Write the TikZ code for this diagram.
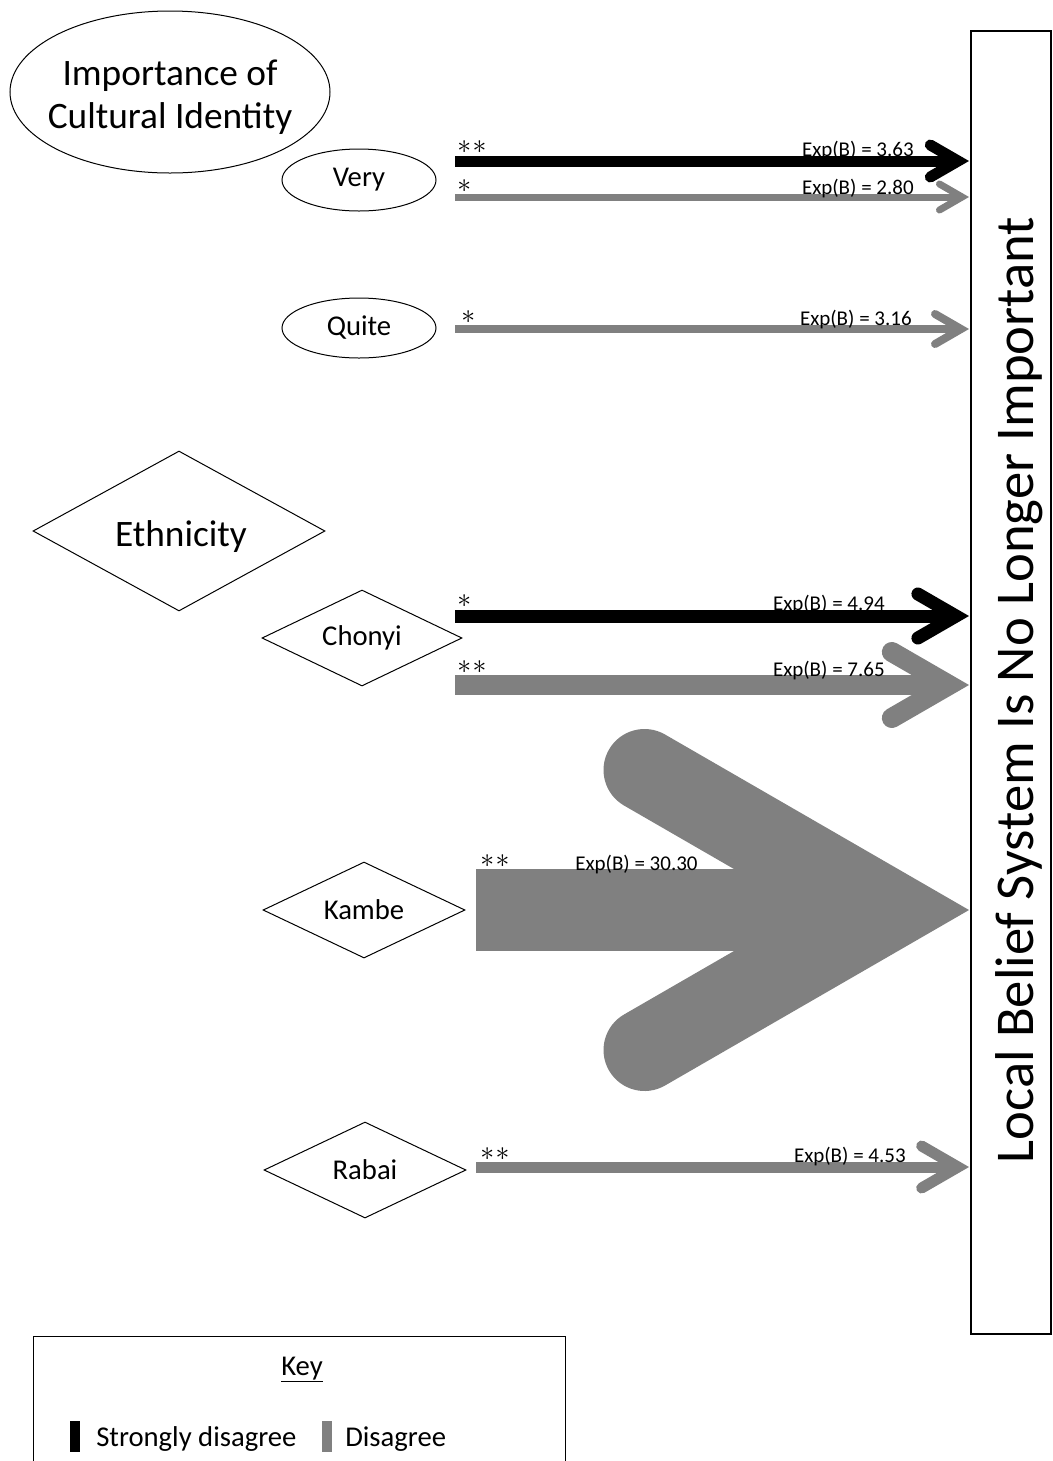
\documentclass[tikz,border=0pt]{standalone}
\usepackage{fontspec}
\setmainfont{Carlito}
\usetikzlibrary{shapes.geometric,calc}
\definecolor{dgray}{RGB}{128,128,128}

% open arrow: shaft plus round-capped barbs meeting in a mitred point
% #1 colour, #2 width (px), #3 barb length (px), #4 start, #5 tip
\newcommand\openarrow[5]{%
  \draw[#1, line width=#2*0.75pt] (#4) -- ($(#5)+(-#2,0)$);
  \draw[#1, line width=#2*0.75pt, line cap=round, line join=miter]
    ($(#5)+(-#2,0)+(150:#3)$) -- ($(#5)+(-#2,0)$) -- ($(#5)+(-#2,0)+(210:#3)$);
}

\begin{document}
\begin{tikzpicture}[x=0.75pt,y=-0.75pt,
  oval/.style={ellipse, draw, line width=0.75pt, inner sep=0pt},
  rhomb/.style={diamond, draw, line width=0.75pt, inner sep=0pt},
  catfont/.style={font=\fontsize{21.5}{26}\selectfont},
  bigfont/.style={font=\fontsize{28}{32.25}\selectfont},
  explabel/.style={font=\fontsize{15.75}{18}\selectfont, inner sep=0pt, anchor=base east},
  starlabel/.style={font=\fontsize{20.74}{24}\selectfont, inner sep=0pt, anchor=south west},
]
\clip (0,0) rectangle (1053,1461);
\fill[white] (0,0) rectangle (1053,1461);

% outcome box
\node[draw, line width=1.5pt, inner sep=0pt, anchor=north west,
      minimum width=60pt, minimum height=977.25pt] (lbs) at (970,30) {};
\node[rotate=90, anchor=base, inner sep=0pt, font=\fontsize{41}{48}\selectfont]
  (lbstext) at (1033,690) {Local Belief System Is No Longer Important};

% importance of cultural identity
\node[oval, minimum width=240pt, minimum height=121.5pt] (cid) at (170,92) {};
\node[bigfont, align=center, inner sep=0pt] (cidtext) at (170,97) {Importance of\\Cultural Identity};
\node[oval, catfont, minimum width=115.5pt, minimum height=46.5pt] (very) at (359,180) {Very};
\node[oval, catfont, minimum width=115.5pt, minimum height=45pt] (quite) at (359,328) {Quite};

% ethnicity
\node[rhomb, aspect=1.8, minimum width=219pt, minimum height=120pt] (eth) at (179,531) {};
\node[bigfont, inner sep=0pt] (ethtext) at (181,537) {Ethnicity};
\node[rhomb, catfont, aspect=2.08, minimum width=150pt, minimum height=72pt] (chonyi) at (362,638) {Chonyi};
\node[rhomb, catfont, aspect=2.08, minimum width=151.5pt, minimum height=72pt] (kambe) at (364,910) {Kambe};
\node[rhomb, catfont, aspect=2.08, minimum width=151.5pt, minimum height=72pt] (rabai) at (365,1170) {Rabai};

% arrow start points
\coordinate (s1) at (455,161);
\coordinate (s2) at (455,197);
\coordinate (s3) at (455,329);
\coordinate (s4) at (455,616);
\coordinate (s5) at (455,685);
\coordinate (s6) at (476,910);
\coordinate (s7) at (476,1167);

% arrows into the outcome box
\openarrow{black}{11}{32}{s1}{$(lbs.west |- s1)+(-1,0)$}
\openarrow{dgray}{7}{26}{s2}{$(lbs.west |- s2)+(-1,0)$}
\openarrow{dgray}{8}{30}{s3}{$(lbs.west |- s3)+(-1,0)$}
\openarrow{black}{13}{44}{s4}{$(lbs.west |- s4)+(-1,0)$}
\openarrow{dgray}{20}{66}{s5}{$(lbs.west |- s5)+(-1,0)$}
\openarrow{dgray}{82}{280}{s6}{$(lbs.west |- s6)+(-1,0)$}
\openarrow{dgray}{11}{42}{s7}{$(lbs.west |- s7)+(-1,0)$}

% significance marks
\node[starlabel] (st1) at (457,154) {$\ast\mkern1mu\ast$};
\node[starlabel] (st2) at (457,193) {$\ast$};
\node[starlabel] (st3) at (461,324) {$\ast$};
\node[starlabel] (st4) at (457,608) {$\ast$};
\node[starlabel] (st5) at (457,674) {$\ast\mkern1mu\ast$};
\node[starlabel] (st6) at (480,868) {$\ast\mkern1mu\ast$};
\node[starlabel] (st7) at (480,1161) {$\ast\mkern1mu\ast$};

% odds ratios
\node[explabel] (e1) at (914,156) {Exp(B) = 3.63};
\node[explabel] (e2) at (914,194) {Exp(B) = 2.80};
\node[explabel] (e3) at (912,325) {Exp(B) = 3.16};
\node[explabel] (e4) at (885,610) {Exp(B) = 4.94};
\node[explabel] (e5) at (885,676) {Exp(B) = 7.65};
\node[explabel, anchor=base west] (e6) at (575,870) {Exp(B) = 30.30};
\node[explabel] (e7) at (906,1162) {Exp(B) = 4.53};

% key
\node[draw, line width=1.1pt, inner sep=0pt, anchor=north west,
      minimum width=399pt, minimum height=120pt] (key) at (33,1336) {};
\node[catfont, inner sep=0pt, anchor=base] (keytitle) at (302,1375) {\underline{Key}};
\fill[black] (70,1421) rectangle (80,1452);
\fill[dgray] (322,1421) rectangle (332,1452);
\node[catfont, inner sep=0pt, anchor=base west] (ksd) at (96,1446) {Strongly disagree};
\node[catfont, inner sep=0pt, anchor=base west] (kd) at (345,1446) {Disagree};
\end{tikzpicture}
\end{document}
